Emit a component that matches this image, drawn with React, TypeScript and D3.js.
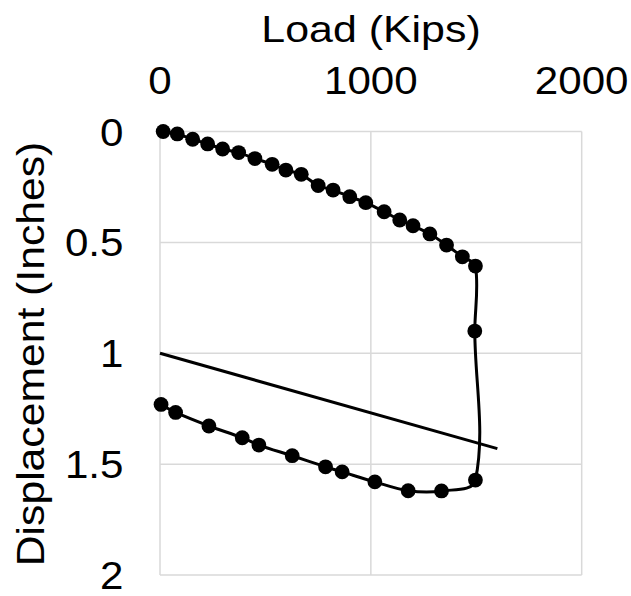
import React from "react";
import * as d3 from "d3";

const loads = [15, 82, 155, 226, 297, 373, 450, 532, 597, 670, 750, 821, 900, 976, 1063, 1137, 1200, 1280, 1359, 1434, 1496, 1493, 1496, 1335, 1177, 1019, 864, 785, 627, 469, 390, 232, 74, 5];
const displacements = [0, 0.011, 0.035, 0.056, 0.079, 0.095, 0.122, 0.148, 0.174, 0.193, 0.244, 0.264, 0.294, 0.321, 0.362, 0.399, 0.425, 0.462, 0.512, 0.565, 0.607, 0.9, 1.572, 1.621, 1.62, 1.58, 1.535, 1.512, 1.462, 1.414, 1.381, 1.328, 1.267, 1.231];

const refLoads = [0, 1600];
const refDisplacements = [1.0, 1.43];

const xTicks = [0, 1000, 2000];
const yTicks = [0, 0.5, 1, 1.5, 2];
const yTickLabels = ["0", "0.5", "1", "1.5", "2"];

const W = 631;
const H = 596;
const FONT = "'Liberation Sans', Arial, sans-serif";

// Excel-like smoothing: tangent direction from neighbours, arm length from segment length
function smoothPath(p: [number, number][]): string {
  const path = d3.path();
  const n = p.length;
  const dir = p.map((_, i) => {
    const a = p[Math.max(0, i - 1)];
    const b = p[Math.min(n - 1, i + 1)];
    const dx = b[0] - a[0];
    const dy = b[1] - a[1];
    const len = Math.hypot(dx, dy) || 1;
    return [dx / len, dy / len];
  });
  path.moveTo(p[0][0], p[0][1]);
  for (let i = 0; i < n - 1; i++) {
    const a = p[i];
    const b = p[i + 1];
    const L = Math.hypot(b[0] - a[0], b[1] - a[1]) / 3;
    path.bezierCurveTo(
      a[0] + dir[i][0] * L,
      a[1] + dir[i][1] * L,
      b[0] - dir[i + 1][0] * L,
      b[1] - dir[i + 1][1] * L,
      b[0],
      b[1]
    );
  }
  return path.toString();
}

export default function App() {
  const x = d3.scaleLinear().domain([0, 2000]).range([160, 581.7]);
  const y = d3.scaleLinear().domain([0, 2]).range([131.5, 575]);

  const pts: [number, number][] = loads.map((l, i) => [x(l), y(displacements[i])]);
  const refPts: [number, number][] = refLoads.map((l, i) => [l, refDisplacements[i]]);

  const straight = d3
    .line<[number, number]>()
    .x((d) => x(d[0]))
    .y((d) => y(d[1]));

  const [x0, x1] = x.range();
  const [y0, y1] = y.range();
  const sx = 1.08;

  return (
    <div style={{ position: "absolute", left: 0, top: 0 }}>
      <svg width={W} height={H} style={{ display: "block", background: "#fff" }}>
        <rect x={0} y={0} width={W} height={H} fill="#fff" />
        {xTicks.map((t) => (
          <line key={"gx" + t} x1={x(t)} x2={x(t)} y1={y0} y2={y1} stroke="#d9d9d9" strokeWidth={1.5} />
        ))}
        {yTicks.map((t) => (
          <line key={"gy" + t} x1={x0} x2={x1} y1={y(t)} y2={y(t)} stroke="#d9d9d9" strokeWidth={1.5} />
        ))}
        <path d={straight(refPts) || ""} fill="none" stroke="#000" strokeWidth={3} />
        <path d={smoothPath(pts)} fill="none" stroke="#000" strokeWidth={3} />
        {pts.map((p, i) => (
          <circle key={i} cx={p[0]} cy={p[1]} r={7.4} fill="#000" />
        ))}
        {xTicks.map((t) => (
          <text
            key={"tx" + t}
            transform={`translate(${x(t)},94) scale(${sx},1)`}
            textAnchor="middle"
            fontFamily={FONT}
            fontSize={39}
            fill="#000"
          >
            {String(t)}
          </text>
        ))}
        {yTicks.map((t, i) => (
          <text
            key={"ty" + t}
            transform={`translate(123.5,${y(t) + 14}) scale(${sx},1)`}
            textAnchor="end"
            fontFamily={FONT}
            fontSize={39}
            fill="#000"
          >
            {yTickLabels[i]}
          </text>
        ))}
        <text
          transform={`translate(371,42) scale(1.16,1)`}
          textAnchor="middle"
          fontFamily={FONT}
          fontSize={37}
          fill="#000"
        >
          Load (Kips)
        </text>
        <text
          transform={`translate(43.5,354) rotate(-90) scale(1.08,1)`}
          textAnchor="middle"
          fontFamily={FONT}
          fontSize={39.5}
          fill="#000"
        >
          Displacement (Inches)
        </text>
      </svg>
    </div>
  );
}
